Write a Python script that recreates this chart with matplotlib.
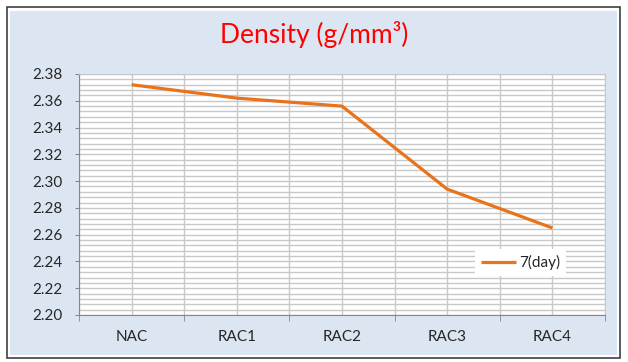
import numpy as np
import matplotlib.pyplot as plt
from matplotlib.patches import Rectangle
from matplotlib.ticker import MultipleLocator, FixedLocator

plt.rcParams['font.family'] = ['Lato', 'DejaVu Sans']

# ---------------- data ----------------
mixes = ['NAC', 'RAC1', 'RAC2', 'RAC3', 'RAC4']
density_7day = [2.372, 2.362, 2.356, 2.294, 2.265]

# ---------------- figure ----------------
W, H = 628, 362
fig = plt.figure(figsize=(W / 100, H / 100), dpi=100)
fig.patch.set_facecolor('white')

# outer chart frame + light blue chart area (behind the axes)
fig.patches.append(Rectangle((7 / W, 1 - 358 / H), 613 / W, 351 / H,
                             transform=fig.transFigure, facecolor='none',
                             edgecolor='#3f3f3f', linewidth=1.2, zorder=-10))
fig.patches.append(Rectangle((10 / W, 1 - 355 / H), 607 / W, 344 / H,
                             transform=fig.transFigure, facecolor='#dce6f2',
                             edgecolor='none', zorder=-10))

ax = fig.add_axes([79 / W, 1 - 315 / H, 526 / W, 241 / H])
ax.set_facecolor('white')

x = np.arange(len(mixes))
ax.plot(x, density_7day, color='#e9731a', linewidth=2.3,
        solid_capstyle='butt', label='7(day)', zorder=3)

ax.set_xlim(-0.5, len(mixes) - 0.5)
ax.set_ylim(2.20, 2.38)

# y axis: labelled every 0.02, minor grid every 0.004
ax.yaxis.set_major_locator(MultipleLocator(0.02))
ax.yaxis.set_minor_locator(MultipleLocator(0.004))
ax.set_yticklabels([f'{v:.2f}' for v in ax.get_yticks()])
ax.tick_params(axis='y', which='major', length=3, pad=9, labelsize=11,
               color='#868686', labelcolor='#262626')
ax.tick_params(axis='y', which='minor', length=0)

# x axis: labels at centres, tick marks at boundaries
ax.set_xticks(x)
ax.set_xticklabels(mixes)
ax.xaxis.set_minor_locator(FixedLocator(np.arange(-0.5, len(mixes), 1.0)))
ax.tick_params(axis='x', which='major', length=0, pad=11, labelsize=11,
               labelcolor='#262626')
ax.tick_params(axis='x', which='minor', length=4, color='#868686')

ax.grid(True, which='both', color='#c8c8c8', linewidth=1.0, zorder=1)
ax.set_axisbelow(True)

for side in ['top', 'right']:
    ax.spines[side].set_color('#c8c8c8')
for side in ['left', 'bottom']:
    ax.spines[side].set_color('#868686')

leg = ax.legend(loc='lower left', bbox_to_anchor=(0.738, 0.13),
                fontsize=11, frameon=True, fancybox=False, framealpha=1,
                facecolor='white', edgecolor='none', handlelength=2.3,
                handletextpad=0.2, borderpad=0.4)
leg.get_texts()[0].set_color('#262626')

fig.text(314 / W, 1 - 35 / H, 'Density (g/mm³)', color='red', fontsize=19,
         ha='center', va='center')

fig.savefig('out.png', dpi=100)
